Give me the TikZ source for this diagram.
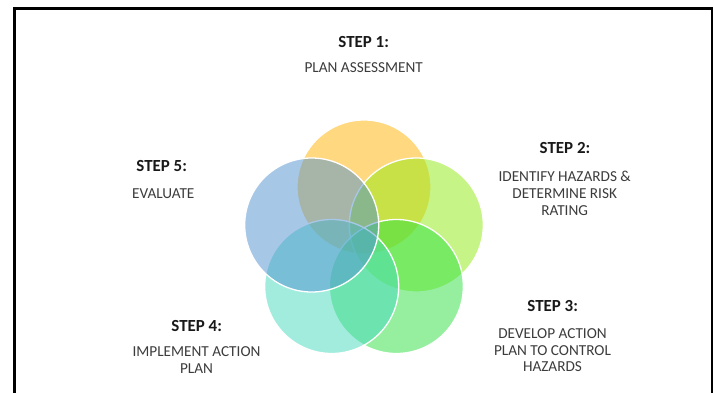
\documentclass[tikz,border=0pt]{standalone}
\usepackage{fontspec}
\setmainfont{Carlito}
\definecolor{petalone}{RGB}{255,179,1}
\definecolor{petaltwo}{RGB}{145,235,15}
\definecolor{petalthree}{RGB}{45,225,65}
\definecolor{petalfour}{RGB}{71,219,191}
\definecolor{petalfive}{RGB}{81,145,209}
\definecolor{headtext}{RGB}{25,25,25}
\definecolor{bodytext}{RGB}{60,60,60}
\begin{document}
\begin{tikzpicture}[x=1bp,y=1bp,
    petal/.style={circle,minimum size=134bp,inner sep=0pt,draw=white,
      line width=1.3bp,fill opacity=0.5},
    head/.style={anchor=base,inner sep=0pt,text=headtext,
      font=\bfseries\fontsize{17}{20}\selectfont},
    body/.style={anchor=base,inner sep=0pt,align=center,text=bodytext,
      font=\fontsize{15.3}{16.7}\selectfont}]
  \useasboundingbox (0,0) rectangle (714,392);
  \fill[white] (0,0) rectangle (714,392);
  \begin{scope}
    \clip (0,0) rectangle (714,392);
    \draw[line width=2.6bp] (14.5,-5) |- (712,383.5) -- (712,-5);
  \end{scope}
  % petals
  \path[shift={(364,150)}]
    (90:55) node[petal,fill=petalone] (p1) {}
    (18:55) node[petal,fill=petaltwo] (p2) {}
    (-54:55) node[petal,fill=petalthree] (p3) {}
    (-126:55) node[petal,fill=petalfour] (p4) {}
    (162:55) node[petal,fill=petalfive] (p5) {};
  % labels (body nodes sit on the baseline of their last line)
  \node[head] (h1) at (363.7,344.7) {STEP 1:};
  \node[body] (t1) at (363.7,319.3) {PLAN ASSESSMENT};
  \node[head] (h2) at (565,238.7) {STEP 2:};
  \node[body] (t2) at (564.7,177) {IDENTIFY HAZARDS \&\\DETERMINE RISK\\RATING};
  \node[head] (h3) at (552.7,80.3) {STEP 3:};
  \node[body] (t3) at (552.5,20.3) {DEVELOP ACTION\\PLAN TO CONTROL\\HAZARDS};
  \node[head] (h4) at (196.7,60.3) {STEP 4:};
  \node[body] (t4) at (196.5,18.7) {IMPLEMENT ACTION\\PLAN};
  \node[head] (h5) at (161.7,220.3) {STEP 5:};
  \node[body] (t5) at (163.3,193.7) {EVALUATE};
\end{tikzpicture}
\end{document}
